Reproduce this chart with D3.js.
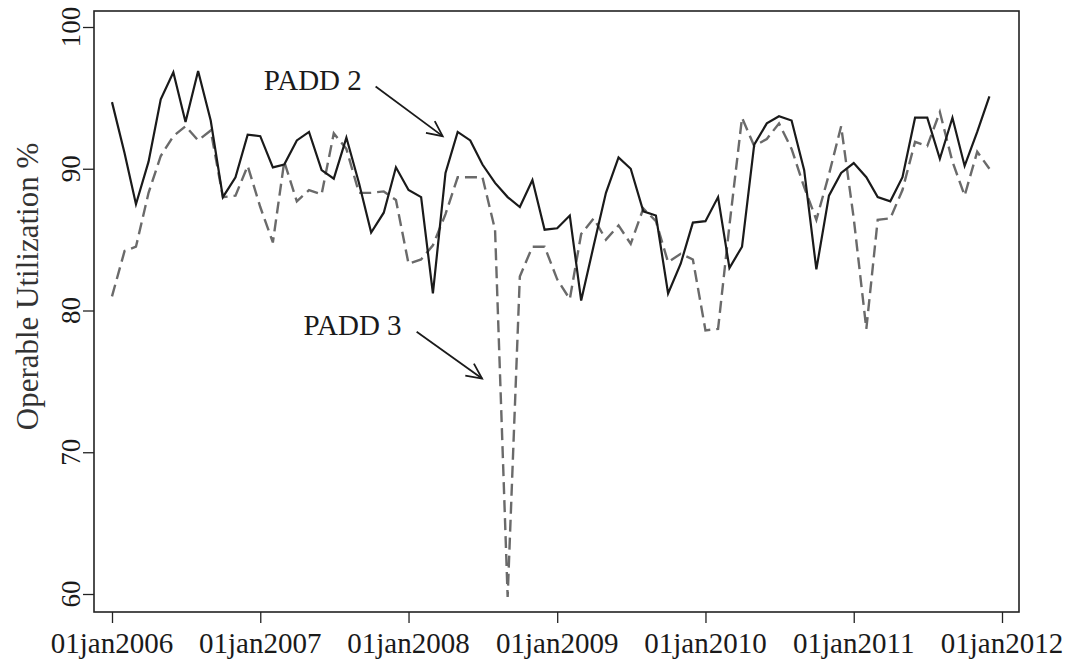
<!DOCTYPE html>
<html>
<head>
<meta charset="utf-8">
<script src="https://cdn.jsdelivr.net/npm/d3@7/dist/d3.min.js"></script>
<style>
  body { margin: 0; background: #fff; }
  svg text { font-family: "Liberation Serif", "Times New Roman", serif; fill: #1a1a1a; }
</style>
</head>
<body>
<svg id="chart" width="1067" height="663"></svg>
<script>
// monthly operable utilization, jan2006 .. dec2011
const months = d3.timeMonths(new Date(2006, 0, 1), new Date(2012, 0, 1))

const padd2 = [
  94.7, 91.1, 87.5, 90.5, 94.9, 96.8, 93.3, 96.9, 93.4, 88.0, 89.4, 92.4,
  92.3, 90.1, 90.3, 92.0, 92.6, 89.9, 89.3, 92.2, 89.0, 85.5, 86.9, 90.1,
  88.5, 88.0, 81.2, 89.7, 92.6, 92.0, 90.3, 89.0, 88.0, 87.3, 89.2, 85.7,
  85.8, 86.7, 80.7, 84.6, 88.3, 90.8, 90.0, 87.0, 86.7, 81.2, 83.3, 86.2,
  86.3, 88.0, 83.0, 84.5, 91.7, 93.2, 93.7, 93.4, 89.9, 82.9, 88.1, 89.7,
  90.4, 89.4, 88.0, 87.7, 89.4, 93.6, 93.6, 90.7, 93.6, 90.2, 92.6, 95.1
]

const padd3 = [
  81.0, 84.2, 84.5, 88.3, 90.9, 92.3, 93.0, 92.0, 92.7, 88.0, 88.1, 90.2,
  87.3, 84.8, 90.5, 87.7, 88.5, 88.2, 92.5, 91.4, 88.3, 88.3, 88.4, 87.8,
  83.3, 83.6, 84.6, 86.8, 89.4, 89.4, 89.4, 85.7, 59.8, 82.4, 84.5, 84.5,
  82.2, 80.8, 85.4, 86.5, 85.0, 86.0, 84.7, 87.2, 86.3, 83.4, 84.0, 83.6,
  78.6, 78.7, 86.0, 93.6, 91.6, 92.1, 93.2, 91.4, 88.7, 86.4, 89.6, 93.0,
  86.5, 78.7, 86.4, 86.5, 88.5, 91.9, 91.6, 94.0, 90.5, 88.1, 91.2, 90.0
]

const yTicks = [60, 70, 80, 90, 100]
const xTicks = d3.range(2006, 2013).map((y) => new Date(y, 0, 1))
const xTickLabels = xTicks.map((d) => '01jan' + d.getFullYear())

// labels with arrows: text end point, arrow start, arrow tip (date, value)
const notes = [
  { label: 'PADD 2', text: [new Date(2007, 8, 8), 95.55], from: [new Date(2007, 9, 12), 95.8], to: [new Date(2008, 2, 25), 92.3] },
  { label: 'PADD 3', text: [new Date(2007, 11, 15), 78.3], from: [new Date(2008, 0, 21), 78.5], to: [new Date(2008, 5, 30), 75.2] }
]

const svg = d3.select('#chart')

const box = { left: 94, right: 1019, top: 11, bottom: 612 }

const xscale = d3.scaleTime()
  .domain([new Date(2006, 0, 1), new Date(2012, 0, 1)])
  .range([112, 1002])

const yscale = d3.scaleLinear()
  .domain([60, 100])
  .range([594, 27])

// plot region frame
svg.append('rect')
  .attr('x', box.left)
  .attr('y', box.top)
  .attr('width', box.right - box.left)
  .attr('height', box.bottom - box.top)
  .attr('fill', 'none')
  .attr('stroke', '#222')
  .attr('stroke-width', 1.6)

// y axis
const yAxis = svg.append('g')
  .attr('transform', `translate(${box.left}, 0)`)
  .call(d3.axisLeft(yscale).tickValues(yTicks).tickSize(11).tickFormat(''))
yAxis.select('.domain').remove()
yAxis.selectAll('line').attr('stroke', '#222').attr('stroke-width', 1.3)

svg.append('g')
  .selectAll('text')
  .data(yTicks)
  .enter()
  .append('text')
  .text((d) => d)
  .attr('transform', (d) => `translate(80, ${yscale(d)}) rotate(-90)`)
  .attr('text-anchor', 'middle')
  .attr('font-size', 27)

svg.append('text')
  .text('Operable Utilization %')
  .attr('transform', `translate(38, ${yscale(80) - 24}) rotate(-90)`)
  .attr('text-anchor', 'middle')
  .attr('font-size', 31)
  .style('fill', '#333')

// x axis
const xAxis = svg.append('g')
  .attr('transform', `translate(0, ${box.bottom})`)
  .call(d3.axisBottom(xscale).tickValues(xTicks).tickSize(11).tickFormat(''))
xAxis.select('.domain').remove()
xAxis.selectAll('line').attr('stroke', '#222').attr('stroke-width', 1.3)

svg.append('g')
  .selectAll('text')
  .data(xTicks)
  .enter()
  .append('text')
  .text((d, i) => xTickLabels[i])
  .attr('x', (d) => xscale(d))
  .attr('y', 653)
  .attr('text-anchor', 'middle')
  .attr('font-size', 29)

// series
const line = (vals) => d3.line()
  .x((d, i) => xscale(months[i]))
  .y((d) => yscale(d))(vals)

svg.append('path')
  .attr('d', line(padd3))
  .attr('fill', 'none')
  .attr('stroke', '#6a6a6a')
  .attr('stroke-width', 2.4)
  .attr('stroke-dasharray', '12,6')

svg.append('path')
  .attr('d', line(padd2))
  .attr('fill', 'none')
  .attr('stroke', '#1a1a1a')
  .attr('stroke-width', 2.2)
  .attr('stroke-linejoin', 'miter')

// annotations
const ann = svg.append('g')
notes.forEach((n) => {
  ann.append('text')
    .text(n.label)
    .attr('x', xscale(n.text[0]))
    .attr('y', yscale(n.text[1]))
    .attr('text-anchor', 'end')
    .attr('font-size', 29)

  const x1 = xscale(n.from[0]), y1 = yscale(n.from[1])
  const x2 = xscale(n.to[0]), y2 = yscale(n.to[1])
  const ang = Math.atan2(y2 - y1, x2 - x1)
  const head = 17
  const spread = 0.45
  ann.append('line')
    .attr('x1', x1).attr('y1', y1).attr('x2', x2).attr('y2', y2)
    .attr('stroke', '#1a1a1a').attr('stroke-width', 1.8)
  ann.append('path')
    .attr('d', `M${x2 - head * Math.cos(ang - spread)},${y2 - head * Math.sin(ang - spread)} L${x2},${y2} L${x2 - head * Math.cos(ang + spread)},${y2 - head * Math.sin(ang + spread)}`)
    .attr('fill', 'none')
    .attr('stroke', '#1a1a1a').attr('stroke-width', 1.8)
})
</script>
</body>
</html>
